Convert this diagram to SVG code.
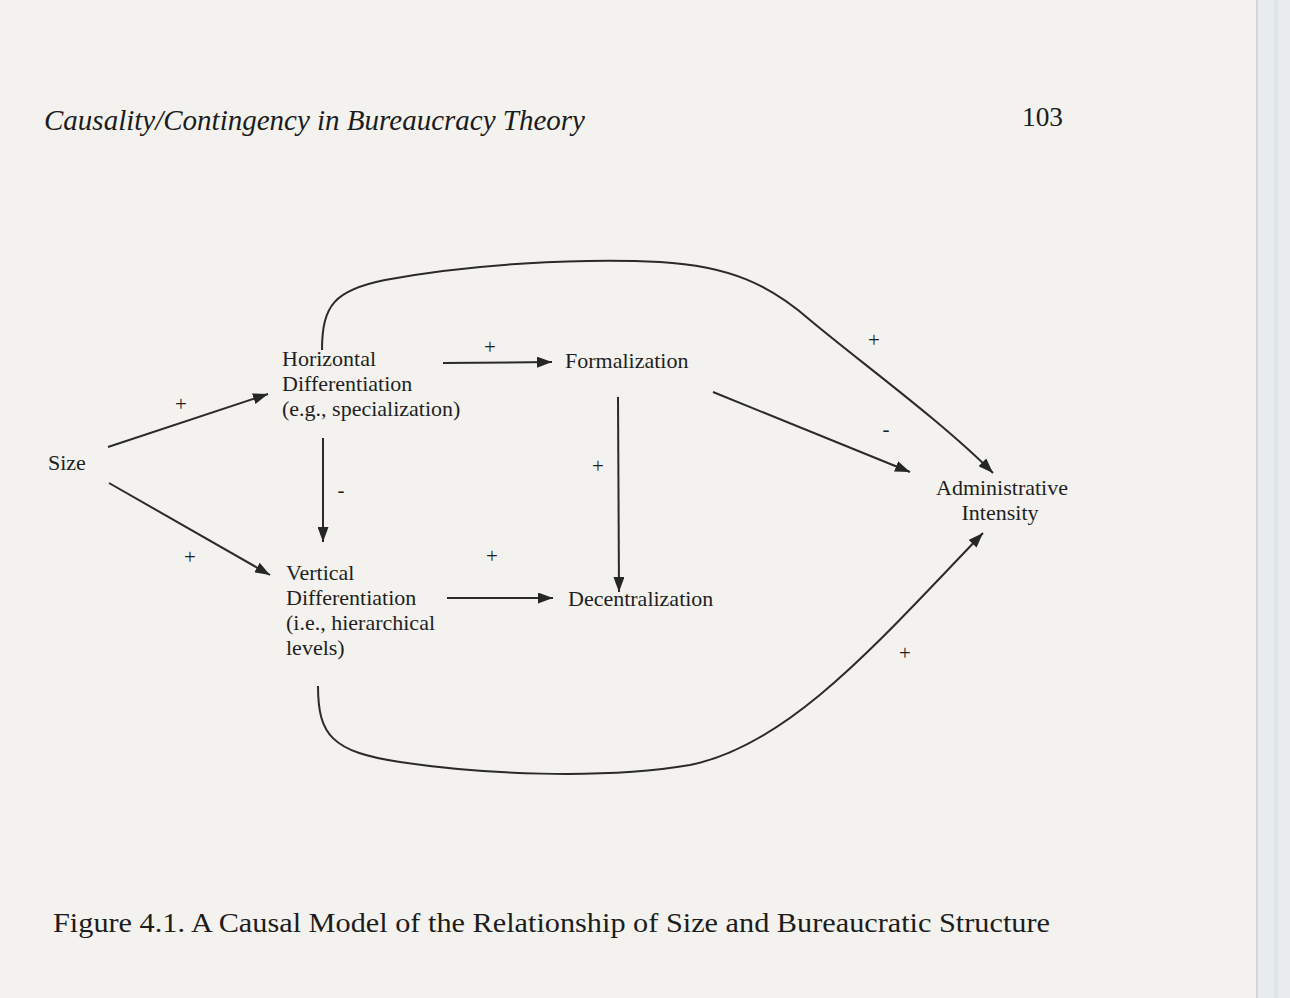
<svg xmlns="http://www.w3.org/2000/svg" width="1290" height="998" viewBox="0 0 1290 998">
<defs>
<marker id="arr" markerWidth="15" markerHeight="11" refX="15" refY="5.5" orient="auto" markerUnits="userSpaceOnUse">
<path d="M0,0 L15,5.5 L0,11 z" fill="#262626"/>
</marker>
<style>
.lbl{font-family:"Liberation Serif","Times New Roman",serif;font-size:22px;fill:#1f1f1f}
.sign{font-family:"Liberation Serif","Times New Roman",serif;font-size:21px;fill:#1f1f1f;text-anchor:middle}
.hdr{font-family:"Liberation Serif","Times New Roman",serif;fill:#1c1c1c}
.edge{fill:none;stroke:#2a2a2a;stroke-width:2;marker-end:url(#arr)}
</style>
</defs>
<rect x="0" y="0" width="1290" height="998" fill="#f3f2ee"/>
<rect x="1256" y="0" width="34" height="998" fill="#e9ecee"/>
<line x1="1257" y1="0" x2="1257" y2="998" stroke="#d6d6d4" stroke-width="2"/>
<line x1="1276" y1="0" x2="1276" y2="998" stroke="#dfe6e3" stroke-width="4"/>

<g id="header">
<text class="hdr" x="44" y="130" font-size="29" font-style="italic" textLength="541" lengthAdjust="spacingAndGlyphs">Causality/Contingency in Bureaucracy Theory</text>
<text class="hdr" x="1022" y="126" font-size="27" textLength="41" lengthAdjust="spacingAndGlyphs">103</text>
</g>

<g id="connectors">
<path class="edge" d="M108,447 L268,394"/>
<path class="edge" d="M109,483 L270,575"/>
<path class="edge" d="M323,438 L323,542"/>
<path class="edge" d="M443,363 L552,362"/>
<path class="edge" d="M618,397 L619,592"/>
<path class="edge" d="M447,598 L553,598"/>
<path class="edge" d="M713,392 L910,472"/>
<path class="edge" d="M322,350 C322,305 335,290 385,280 C470,264 580,258 660,262 C730,266 770,285 810,320 C860,362 940,420 993,473"/>
<path class="edge" d="M318,686 C318,735 332,752 400,762 C480,774 600,780 690,765 C790,745 880,640 983,533"/>
</g>

<g id="signs">
<text class="sign" x="181" y="411">+</text>
<text class="sign" x="190" y="564">+</text>
<text class="sign" x="341" y="497">-</text>
<text class="sign" x="490" y="354">+</text>
<text class="sign" x="598" y="473">+</text>
<text class="sign" x="492" y="563">+</text>
<text class="sign" x="874" y="347">+</text>
<text class="sign" x="886" y="436">-</text>
<text class="sign" x="905" y="660">+</text>
</g>

<g id="node-size"><text class="lbl" x="48" y="470">Size</text></g>
<g id="node-horizontal">
<text class="lbl" x="282" y="366">Horizontal</text>
<text class="lbl" x="282" y="391">Differentiation</text>
<text class="lbl" x="282" y="416">(e.g., specialization)</text>
</g>
<g id="node-formalization"><text class="lbl" x="565" y="368">Formalization</text></g>
<g id="node-vertical">
<text class="lbl" x="286" y="580">Vertical</text>
<text class="lbl" x="286" y="605">Differentiation</text>
<text class="lbl" x="286" y="630">(i.e., hierarchical</text>
<text class="lbl" x="286" y="655">levels)</text>
</g>
<g id="node-decentralization"><text class="lbl" x="568" y="606">Decentralization</text></g>
<g id="node-admin">
<text class="lbl" x="1002" y="495" text-anchor="middle">Administrative</text>
<text class="lbl" x="1000" y="520" text-anchor="middle">Intensity</text>
</g>

<g id="caption">
<text class="hdr" x="53" y="932" font-size="28" textLength="997" lengthAdjust="spacingAndGlyphs">Figure 4.1.  A Causal Model of the Relationship of Size and Bureaucratic Structure</text>
</g>
</svg>
